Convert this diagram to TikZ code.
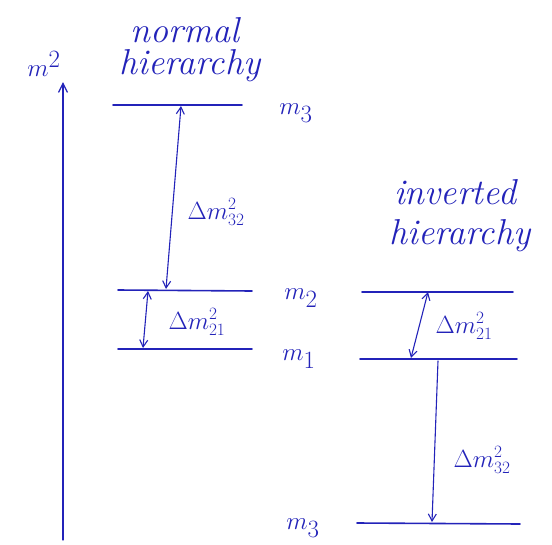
\documentclass[tikz,border=0pt]{standalone}
\usetikzlibrary{arrows.meta}
\definecolor{ink}{RGB}{35,35,185}
\begin{document}
\begin{tikzpicture}[x=1pt,y=-1pt,
  ink/.style={draw=ink,line width=1.6pt,line cap=round},
  lvl/.style={ink},
  gap/.style={ink,line width=1.1pt,{Straight Barb[length=7pt,width=8pt]}-{Straight Barb[length=7pt,width=8pt]}},
  onegap/.style={ink,line width=1.1pt,-{Straight Barb[length=7pt,width=8pt]}},
  lab/.style={text=ink,font=\fontsize{38}{40}\selectfont,inner sep=0pt},
  dlab/.style={text=ink,font=\fontsize{26}{28}\selectfont,inner sep=0pt},
  title/.style={text=ink,font=\fontsize{36}{38}\selectfont\itshape,inner sep=0pt}]
\useasboundingbox (0,0) rectangle (552,544);
% axis
\coordinate (ax0) at (63,540);
\coordinate (ax1) at (63,82);
\draw[ink,line width=1.3pt,-{Straight Barb[length=9pt,width=9pt]}] (ax0) -- (ax1);
\node[lab] (mm) at (44,64) {$m^2$};
% titles
\node[title] (nh1) at (185,30) {normal};
\node[title] (nh2) at (190,66) {hierarchy};
\node[title] (ih1) at (455,192) {inverted};
\node[title] (ih2) at (460,236) {hierarchy};
% normal levels
\coordinate (n3a) at (113,105); \coordinate (n3b) at (242,105);
\coordinate (n2a) at (118,290); \coordinate (n2b) at (252,291);
\coordinate (n1a) at (118,349); \coordinate (n1b) at (252,349);
\draw[lvl] (n3a) -- (n3b);
\draw[lvl] (n2a) -- (n2b);
\draw[lvl] (n1a) -- (n1b);
% inverted levels
\coordinate (i2a) at (362,292); \coordinate (i2b) at (513,292);
\coordinate (i1a) at (360,359); \coordinate (i1b) at (517,359);
\coordinate (i3a) at (357,523); \coordinate (i3b) at (520,524);
\draw[lvl] (i2a) -- (i2b);
\draw[lvl] (i1a) -- (i1b);
\draw[lvl] (i3a) -- (i3b);
% level labels
\node[lab] (l3) at (296,113) {$m_3$};
\node[lab] (l2) at (301,298) {$m_2$};
\node[lab] (l1) at (299,359) {$m_1$};
\node[lab] (l3b) at (303,528) {$m_3$};
% gap arrows normal
\coordinate (g32t) at (181,106); \coordinate (g32b) at (166,289);
\coordinate (g21t) at (148,291); \coordinate (g21b) at (143,348);
\draw[gap] (g32t) -- (g32b);
\draw[gap] (g21t) -- (g21b);
\node[dlab] (d32) at (216,212) {$\Delta m^2_{32}$};
\node[dlab] (d21) at (197,322) {$\Delta m^2_{21}$};
% gap arrows inverted
\coordinate (h21t) at (428,292); \coordinate (h21b) at (411,358);
\coordinate (h32t) at (438,361); \coordinate (h32b) at (432,522);
\draw[gap] (h21t) -- (h21b);
\draw[onegap] (h32t) -- (h32b);
\node[dlab] (e21) at (464,326) {$\Delta m^2_{21}$};
\node[dlab] (e32) at (482,460) {$\Delta m^2_{32}$};
\end{tikzpicture}
\end{document}
